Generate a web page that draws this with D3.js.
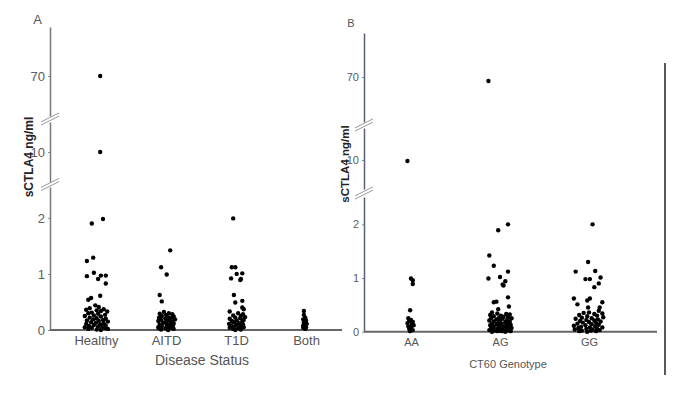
<!DOCTYPE html>
<html lang="en">
  <head>
    <meta charset="UTF-8" />
    <title>sCTLA4 by disease status and CT60 genotype</title>
    <style>
      body {
        margin: 0;
        background: #fff;
        font-family: Arial, "Liberation Sans", sans-serif;
      }
      .dot {
        fill: #000;
      }
      .break {
        stroke: #999;
        stroke-width: 1;
      }
    </style>
  </head>
  <body>
    <svg width="685" height="397"></svg>

    <script src="https://d3js.org/d3.v7.min.js"></script>
    <script>
      // each point: [sCTLA4 ng/ml, horizontal jitter in % of category step]
      const diseaseCats = ["Healthy", "AITD", "T1D", "Both"];
      const healthy = [
        [70, 6], [10, 6], [1.9, -6], [1.98, 10], [1.23, -13], [1.29, -4],
        [0.96, -13], [1.02, -3], [0.91, 3], [0.97, 7], [0.97, 14], [0.83, 14],
        [0.61, 6], [0.54, -11], [0.57, -7],
        [0.44, -1], [0.41, 4], [0.39, -9], [0.37, 11], [0.36, -14], [0.35, 1],
        [0.34, 7], [0.33, 16], [0.31, -6], [0.3, -11], [0.29, 3], [0.27, 13],
        [0.26, -3], [0.25, -16], [0.24, 7], [0.22, -9], [0.21, 1], [0.2, 14],
        [0.19, -4], [0.18, 10], [0.17, -13], [0.16, 4], [0.15, 17], [0.14, -7],
        [0.13, 0], [0.12, 11], [0.11, -14], [0.1, 6], [0.09, -3], [0.08, 14],
        [0.07, -10], [0.06, 3], [0.05, 9], [0.04, -6], [0.03, 13], [0.02, -11],
        [0.01, 1], [0, 7], [0.02, 17], [0.05, -16]
      ];
      const aitd = [
        [1.42, 6], [1.12, -7], [0.99, 1], [0.625, -9], [0.51, -6],
        [0.32, -3], [0.3, 4], [0.29, -9], [0.28, 9], [0.27, 0], [0.25, -6],
        [0.24, 11], [0.23, 3], [0.22, -10], [0.21, 7], [0.2, -1], [0.19, 13],
        [0.18, -7], [0.17, 4], [0.16, -11], [0.15, 9], [0.14, 0], [0.13, -4],
        [0.12, 11], [0.11, 6], [0.1, -9], [0.09, 1], [0.08, 10], [0.07, -6],
        [0.06, 4], [0.05, -11], [0.04, 7], [0.03, -1], [0.02, 11], [0.01, -7],
        [0, 3], [0.03, -10]
      ];
      const t1d = [
        [1.99, -4], [1.12, -6], [1.12, -1], [1.0, 1], [1.01, 9], [0.92, -7],
        [0.91, 7], [0.89, 6], [0.625, -3], [0.49, -1], [0.52, 9], [0.4, 9],
        [0.37, 11], [0.33, -9],
        [0.3, 3], [0.28, 10], [0.26, -4], [0.25, 7], [0.23, 13], [0.22, -1],
        [0.21, 6], [0.2, -9], [0.18, 11], [0.17, 1], [0.16, -6], [0.15, 9],
        [0.14, -3], [0.12, 4], [0.11, -10], [0.1, 10], [0.09, 0], [0.08, -7],
        [0.07, 6], [0.06, -3], [0.05, 11], [0.04, -9], [0.03, 3], [0.02, -4],
        [0.01, 7], [0, -1]
      ];
      const both = [
        [0.34, -3], [0.27, -3], [0.22, -1], [0.19, -4], [0.17, 0], [0.14, -3],
        [0.11, 1], [0.08, -4], [0.05, 0], [0.04, -4], [0.02, -1]
      ];

      const genotypeCats = ["AA", "AG", "GG"];
      const aa = [
        [9.83, -4], [0.99, 0], [0.96, 2], [0.89, 2], [0.4, -1],
        [0.25, -3], [0.22, 0], [0.2, -2], [0.18, 2], [0.16, -4], [0.14, 1],
        [0.12, 3], [0.1, -3], [0.08, 0], [0.05, -2], [0.03, 2], [0.01, -1]
      ];
      const ag = [
        [68, -13], [1.89, -2], [2.0, 9], [1.42, -12], [1.23, -7], [0.99, -13],
        [1.02, 0], [1.12, 9], [0.94, 6], [0.88, 3], [0.86, 4], [0.64, 9],
        [0.56, -4], [0.55, -7], [0.47, 10], [0.42, -2],
        [0.36, -9], [0.34, -3], [0.33, 7], [0.32, 11], [0.31, -11], [0.3, 1],
        [0.29, -7], [0.28, 4], [0.27, 9], [0.26, -1], [0.25, 13], [0.25, -10],
        [0.24, 3], [0.23, -4], [0.22, 8], [0.21, -12], [0.2, 0], [0.19, 11],
        [0.19, -7], [0.18, 6], [0.17, -2], [0.16, 10], [0.15, -9], [0.15, 2],
        [0.14, -4], [0.13, 12], [0.12, 7], [0.12, -11], [0.11, -1], [0.1, 4],
        [0.09, -7], [0.09, 10], [0.08, 1], [0.07, -10], [0.07, 13], [0.06, -3],
        [0.05, 7], [0.05, -8], [0.04, 3], [0.04, 11], [0.03, -12], [0.03, -1],
        [0.02, 8], [0.02, -6], [0.01, 2], [0.01, 12], [0, -9], [0, 6],
        [0.01, -3], [0.02, 0]
      ];
      const gg = [
        [2.0, 4], [1.3, -1], [1.12, -15], [1.13, 7], [0.98, -4], [0.98, 1],
        [1.01, 13], [0.9, 11], [0.83, 6], [0.62, -17], [0.51, -13], [0.62, 1],
        [0.58, -2], [0.55, 15], [0.45, -1], [0.45, 12],
        [0.39, 11], [0.36, 0], [0.35, -6], [0.34, 15], [0.33, 6], [0.31, -11],
        [0.3, 9], [0.29, -2], [0.27, 16], [0.26, -8], [0.25, 3], [0.24, -15],
        [0.23, 10], [0.22, -3], [0.21, 6], [0.2, -10], [0.19, 13], [0.18, 0],
        [0.17, -7], [0.16, 8], [0.15, -13], [0.14, 3], [0.13, 11], [0.12, -4],
        [0.11, -17], [0.1, 7], [0.09, -9], [0.08, 15], [0.08, 1], [0.07, -12],
        [0.06, 9], [0.05, -3], [0.04, 4], [0.04, -16], [0.03, 12], [0.02, -8],
        [0.02, 2], [0.01, -11], [0.01, 8], [0, -2]
      ];

      const ticksUpper = [70];
      const ticksMiddle = [10];
      const ticksLower = [0, 1, 2];

      const panels = [
        {
          label: "A",
          labelPos: [37.5, 24],
          cats: diseaseCats,
          groups: [healthy, aitd, t1d, both],
          xTitle: "Disease Status",
          titlePos: [202, 365],
          titleSize: 14,
          axisX: 50,
          xRange: [96, 306],
          xEnd: 342,
          font: 13,
          yLabelPos: [29, 157],
          yLabelSize: 12,
          axisColor: "#777",
          segments: [
            { domain: [50, 94.5], range: [116, 27], ticks: ticksUpper },
            { domain: [5, 15], range: [182, 122], ticks: ticksMiddle },
            { domain: [0, 2.55], range: [330, 187], ticks: ticksLower }
          ]
        },
        {
          label: "B",
          labelPos: [351, 27],
          cats: genotypeCats,
          groups: [aa, ag, gg],
          xTitle: "CT60 Genotype",
          titlePos: [508, 368],
          titleSize: 11,
          axisX: 364,
          xRange: [411, 589],
          xEnd: 657,
          font: 11,
          yLabelPos: [345, 164],
          yLabelSize: 11.5,
          axisColor: "#5a5f78",
          segments: [
            { domain: [47.5, 92], range: [122, 33], ticks: ticksUpper },
            { domain: [5.17, 15.33], range: [189, 128], ticks: ticksMiddle },
            { domain: [0, 2.51], range: [331.7, 197], ticks: ticksLower }
          ]
        }
      ];

      const svg = d3.select("svg");

      panels.forEach((p) => {
        const g = svg.append("g");

        const x = d3.scalePoint().domain(p.cats).range(p.xRange);
        const step = x.step();
        const segs = p.segments.map((s) => ({
          ...s,
          scale: d3.scaleLinear().domain(s.domain).range(s.range)
        }));
        const lower = segs[segs.length - 1];
        const baseY = lower.scale(0);

        // y axis, one piece per segment
        segs.forEach((s) => {
          const ax = g
            .append("g")
            .attr("transform", `translate(${p.axisX},0)`)
            .call(
              d3
                .axisLeft(s.scale)
                .tickValues(s.ticks)
                .tickSize(2)
                .tickSizeOuter(0)
                .tickPadding(3)
                .tickFormat(d3.format("d"))
            );
          ax.select(".domain").attr("stroke", p.axisColor).attr("stroke-width", 1.5);
          ax.selectAll(".tick line").attr("stroke", "#888");
          ax.selectAll(".tick text")
            .attr("fill", "#5c5c5c")
            .style("font-size", p.font + "px")
            .style("font-family", "Arial, 'Liberation Sans', sans-serif");
        });

        // break marks between segments
        for (let i = 0; i < segs.length - 1; i++) {
          const yc = (segs[i].range[0] + segs[i + 1].range[1]) / 2;
          [-1.6, 1.6].forEach((o) => {
            g.append("line")
              .attr("class", "break")
              .attr("x1", p.axisX - 9)
              .attr("y1", yc + o + 4.5)
              .attr("x2", p.axisX + 9)
              .attr("y2", yc + o - 4.5);
          });
        }

        // x axis
        g.append("line")
          .attr("x1", p.axisX)
          .attr("x2", p.xEnd)
          .attr("y1", baseY)
          .attr("y2", baseY)
          .attr("stroke", "#666")
          .attr("stroke-width", 2);

        const xa = g
          .append("g")
          .attr("transform", `translate(0,${baseY})`)
          .call(d3.axisBottom(x).tickSize(0).tickPadding(p.font === 13 ? 6 : 7));
        xa.select(".domain").remove();
        xa.selectAll(".tick text")
          .attr("fill", "#555")
          .style("font-size", p.font + "px")
          .style("font-family", "Arial, 'Liberation Sans', sans-serif");

        // points
        const pts = [];
        p.groups.forEach((grp, gi) => {
          grp.forEach(([v, j]) => pts.push({ cat: p.cats[gi], v, j }));
        });
        const segFor = (v) => segs.slice().reverse().find((s) => v <= s.domain[1]) || segs[0];
        g.append("g")
          .selectAll("circle")
          .data(pts)
          .join("circle")
          .attr("class", "dot")
          .attr("r", 2.2)
          .attr("cx", (d) => x(d.cat) + (d.j / 100) * step)
          .attr("cy", (d) => segFor(d.v).scale(d.v));

        // titles
        g.append("text")
          .attr("x", p.titlePos[0])
          .attr("y", p.titlePos[1])
          .attr("text-anchor", "middle")
          .attr("fill", "#555")
          .style("font-size", p.titleSize + "px")
          .text(p.xTitle);

        g.append("text")
          .attr("transform", `translate(${p.yLabelPos[0]},${p.yLabelPos[1]}) rotate(-90)`)
          .attr("text-anchor", "middle")
          .attr("dy", "0.35em")
          .attr("fill", "#222")
          .style("font-size", p.yLabelSize + "px")
          .style("font-weight", "bold")
          .text("sCTLA4 ng/ml");

        g.append("text")
          .attr("x", p.labelPos[0])
          .attr("y", p.labelPos[1])
          .attr("text-anchor", "middle")
          .attr("fill", "#555")
          .style("font-size", p.font + "px")
          .text(p.label);
      });

      // frame line on the right of panel B
      svg.append("line")
        .attr("x1", 665)
        .attr("x2", 665)
        .attr("y1", 63)
        .attr("y2", 375)
        .attr("stroke", "#222")
        .attr("stroke-width", 1.5);
    </script>
  </body>
</html>
